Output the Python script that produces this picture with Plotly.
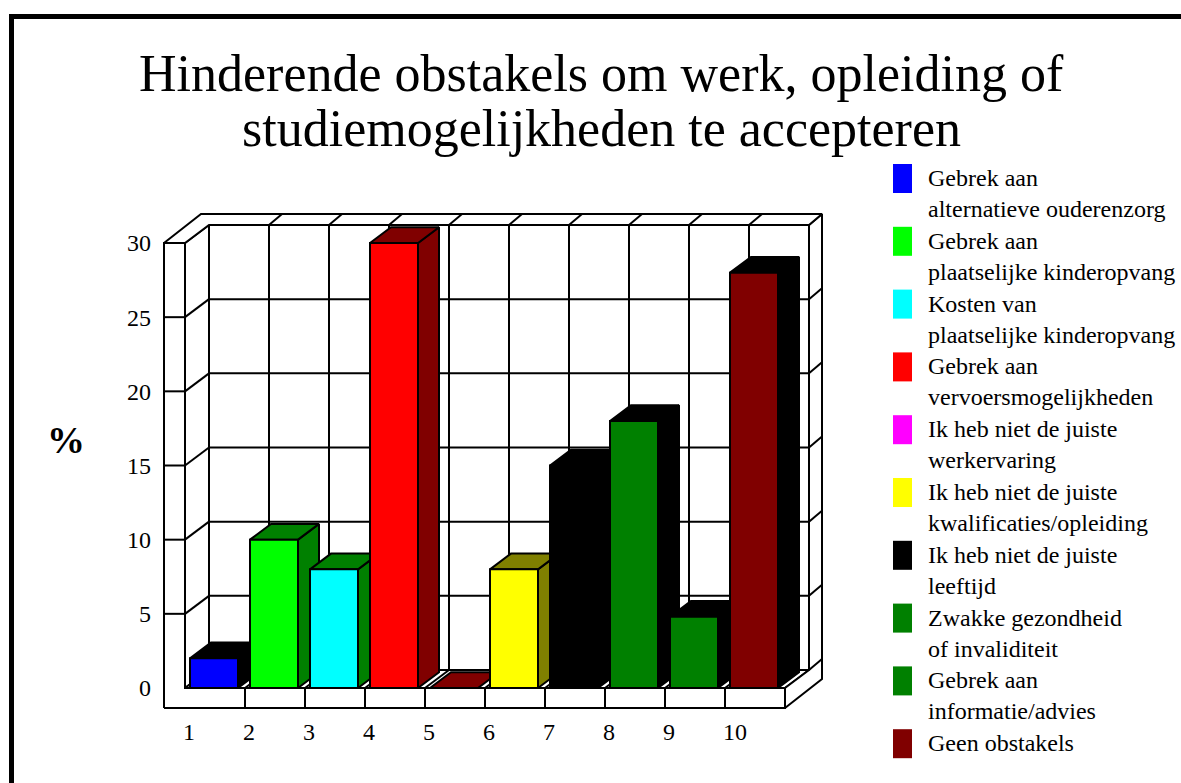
import plotly.graph_objects as go

# ---------------- data ----------------
title_lines = ["Hinderende obstakels om werk, opleiding of",
               "studiemogelijkheden te accepteren"]
categories = ["1", "2", "3", "4", "5", "6", "7", "8", "9", "10"]
values = [2, 10, 8, 30, 0, 8, 15, 18, 4.8, 28]
legend_labels = [
    "Gebrek aan<br>alternatieve ouderenzorg",
    "Gebrek aan<br>plaatselijke kinderopvang",
    "Kosten van<br>plaatselijke kinderopvang",
    "Gebrek aan<br>vervoersmogelijkheden",
    "Ik heb niet de juiste<br>werkervaring",
    "Ik heb niet de juiste<br>kwalificaties/opleiding",
    "Ik heb niet de juiste<br>leeftijd",
    "Zwakke gezondheid<br>of invaliditeit",
    "Gebrek aan<br>informatie/advies",
    "Geen obstakels",
]
y_ticks = [0, 5, 10, 15, 20, 25, 30]
y_label = "%"

# ---------------- styles ----------------
front_colors = ["#0000FF", "#00FF00", "#00FFFF", "#FF0000", "#FF00FF",
                "#FFFF00", "#000000", "#008000", "#008000", "#800000"]
shade_colors = ["#000000", "#008000", "#008000", "#800000", "#800000",
                "#808000", "#000000", "#000000", "#000000", "#000000"]
FONT = "Liberation Serif, Times New Roman, serif"
LW = 2

# ---------------- layout geometry (pixels) ----------------
FIG_W, FIG_H = 1181, 783
PL, PR, PT, PB = 160, 830, 208, 712          # plot area in px
X_PX = 60.0                                  # px per category
Y_PX = (688 - 243) / 30.0                    # px per value unit
X0 = 0.5 - (185 - PL) / X_PX
Y0 = -(PB - 688) / Y_PX
x_range = [X0, X0 + (PR - PL) / X_PX]
y_range = [Y0, Y0 + (PB - PT) / Y_PX]

DX, DY = 24 / X_PX, 18 / Y_PX                # depth of the floor
TX, TY = 13 / X_PX, 11 / Y_PX                # thickness of back wall
BAR_DEPTH = 21 / 24
BAR_W = 0.8
WALL = 21 / X_PX
FLOOR = 20 / Y_PX


def px_x(px):
    return (px - PL) / (PR - PL)


def px_y(py):
    return (PB - py) / (PB - PT)


fig = go.Figure()


def poly(xs, ys, fill):
    fig.add_trace(go.Scatter(
        x=list(xs) + [xs[0]], y=list(ys) + [ys[0]], mode="lines",
        fill="toself", fillcolor=fill,
        line=dict(color="black", width=LW),
        hoverinfo="skip", showlegend=False))


def segs(pairs):
    xs, ys = [], []
    for (xa, ya), (xb, yb) in pairs:
        xs += [xa, xb, None]
        ys += [ya, yb, None]
    fig.add_trace(go.Scatter(x=xs, y=ys, mode="lines",
                             line=dict(color="black", width=LW),
                             hoverinfo="skip", showlegend=False))


n = len(values)
b = [k + 0.5 for k in range(n + 1)]
b0, bn = b[0], b[-1]
YMAX = y_ticks[-1]
xL = b0 - WALL
yF = -FLOOR
inner_ticks = y_ticks[1:-1]

# back wall
poly([b0 + DX, bn + DX, bn + DX, b0 + DX], [DY, DY, YMAX + DY, YMAX + DY], "white")
segs([((b0 + DX, t + DY), (bn + DX, t + DY)) for t in inner_ticks] +
     [((b[k] + DX, DY), (b[k] + DX, YMAX + DY)) for k in range(1, n)])
# left wall inner face
poly([b0, b0 + DX, b0 + DX, b0], [0, DY, YMAX + DY, YMAX], "white")
segs([((b0, t), (b0 + DX, t + DY)) for t in inner_ticks])
# floor top
poly([b0, bn, bn + DX, b0 + DX], [0, 0, DY, DY], "white")
segs([((b[k], 0), (b[k] + DX, DY)) for k in range(1, n)])

# bars
bdx, bdy = DX * BAR_DEPTH, DY * BAR_DEPTH
for i, v in enumerate(values):
    c = i + 1 - 1 / X_PX
    xa, xb = c - BAR_W / 2, c + BAR_W / 2
    if v > 0:
        poly([xb, xb + bdx, xb + bdx, xb], [0, bdy, v + bdy, v], shade_colors[i])
    poly([xa, xb, xb + bdx, xa + bdx], [v, v, v + bdy, v + bdy], shade_colors[i])
    if v > 0:
        poly([xa, xb, xb, xa], [0, 0, v, v], front_colors[i])

# front L (left wall front + floor front)
poly([xL, bn, bn, b0, b0, xL], [yF, yF, 0, 0, YMAX, YMAX], "white")
segs([((xL, t), (b0, t)) for t in inner_ticks] +
     [((b[k], yF), (b[k], 0)) for k in range(1, n)])
# right face (floor + back wall slab)
poly([bn, bn + DX + TX, bn + DX + TX, bn + DX, bn + DX, bn],
     [yF, yF + DY + TY, YMAX + DY + TY, YMAX + DY, DY, 0], "white")
segs([((bn + DX, t + DY), (bn + DX + TX, t + DY + TY)) for t in y_ticks[:-1]])
# top surface
poly([xL, b0, b0 + DX, bn + DX, bn + DX + TX, xL + DX + TX],
     [YMAX, YMAX, YMAX + DY, YMAX + DY, YMAX + DY + TY, YMAX + DY + TY], "white")
segs([((b[k] + DX, YMAX + DY), (b[k] + DX + TX, YMAX + DY + TY)) for k in range(1, n)])

annotations = []
# title
for j, line in enumerate(title_lines):
    annotations.append(dict(text=line, xref="paper", yref="paper",
                            x=px_x(601), y=px_y(73 + 56 * j),
                            xanchor="center", yanchor="middle", showarrow=False,
                            font=dict(family=FONT, size=52, color="black")))
# x category labels
for k, cat in enumerate(categories):
    annotations.append(dict(text=cat, xref="x", yref="paper", x=b[k], y=0,
                            xanchor="left", yanchor="top", xshift=-4, yshift=-5,
                            showarrow=False,
                            font=dict(family=FONT, size=24, color="black")))
# y title
annotations.append(dict(text="<b>" + y_label + "</b>", xref="paper", yref="paper",
                        x=px_x(66), y=px_y(440), xanchor="center", yanchor="middle",
                        showarrow=False,
                        font=dict(family=FONT, size=38, color="black")))
# legend
shapes = []
for i, lab in enumerate(legend_labels):
    top = 164 + 62.8 * i
    shapes.append(dict(type="rect", xref="paper", yref="paper",
                       x0=px_x(893), x1=px_x(912), y0=px_y(top), y1=px_y(top + 29),
                       fillcolor=front_colors[i], line=dict(width=0)))
    annotations.append(dict(text=lab, xref="paper", yref="paper",
                            x=px_x(926), y=px_y(top - 1), xanchor="left", yanchor="top",
                            align="left", showarrow=False,
                            font=dict(family=FONT, size=24, color="black")))
# outer border
shapes.append(dict(type="line", xref="paper", yref="paper",
                   x0=px_x(11.5), x1=px_x(11.5), y0=px_y(16.5), y1=px_y(FIG_H + 20),
                   line=dict(color="black", width=5)))
shapes.append(dict(type="line", xref="paper", yref="paper",
                   x0=px_x(9), x1=px_x(FIG_W + 20), y0=px_y(16.5), y1=px_y(16.5),
                   line=dict(color="black", width=5)))

fig.update_layout(
    width=FIG_W, height=FIG_H,
    margin=dict(l=PL, r=FIG_W - PR, t=PT, b=FIG_H - PB, pad=0),
    paper_bgcolor="white", plot_bgcolor="white",
    showlegend=False,
    xaxis=dict(range=x_range, visible=False, fixedrange=True),
    yaxis=dict(range=y_range, tickvals=y_ticks, ticktext=[str(t) for t in y_ticks],
               showgrid=False, zeroline=False, showline=False, ticks="",
               ticklabelstandoff=8, fixedrange=True,
               tickfont=dict(family=FONT, size=24, color="black")),
    annotations=annotations, shapes=shapes,
    hovermode=False,
)

fig.write_html("out.html", config={"displayModeBar": False},
               post_script="document.body.style.margin='0';")
